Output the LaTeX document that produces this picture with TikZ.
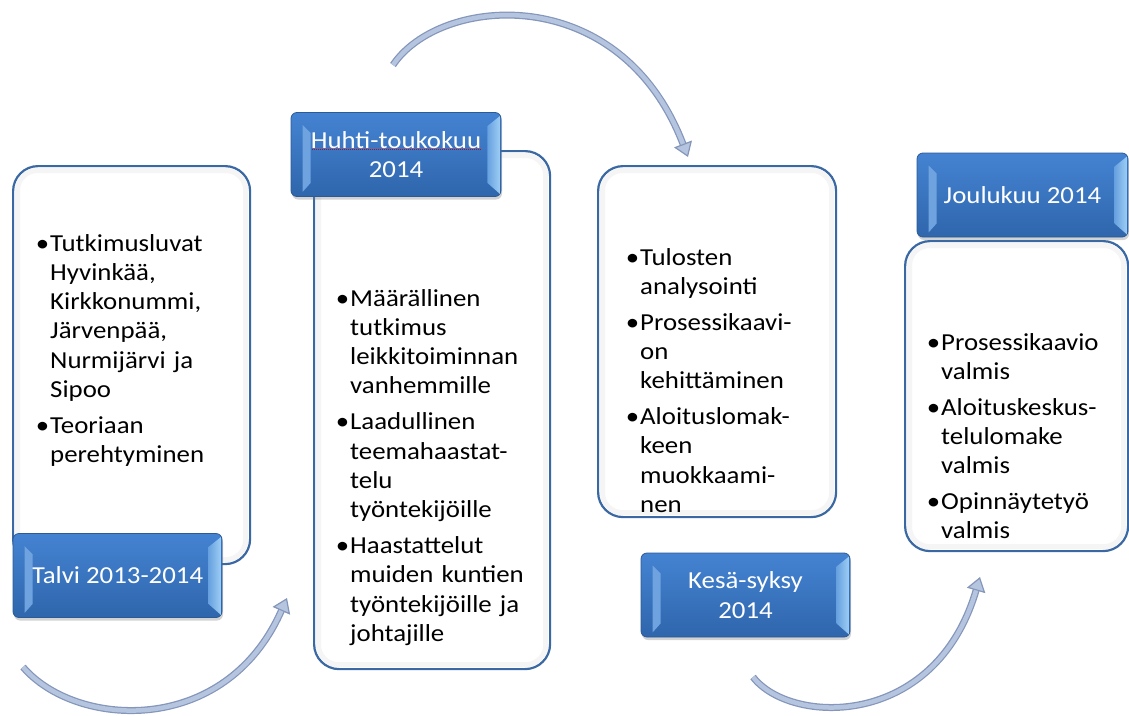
\documentclass[tikz,border=0pt]{standalone}
\usepackage{fontspec}
\setmainfont{Carlito}[FakeStretch=1.1]
\usetikzlibrary{arrows.meta,shadows,calc}
\definecolor{boxline}{HTML}{3A68A3}
\definecolor{lbltop}{HTML}{4483D2}
\definecolor{lblbot}{HTML}{2F66AC}
\definecolor{lbledge}{HTML}{2B5A96}
\definecolor{bevl}{HTML}{6FA3E0}
\definecolor{bevr}{HTML}{9CCDF4}
\definecolor{arrdark}{HTML}{8496BA}
\definecolor{arrlight}{HTML}{B5C4DF}
\tikzset{
  card/.style={draw=boxline, line width=2.2pt, fill=white, rounded corners=25pt,
    inner sep=0pt, anchor=north west},
  cardshade/.style={draw=black!4, line width=5pt, rounded corners=20pt},
  lbl/.style={draw=lbledge, line width=0.8pt, top color=lbltop, bottom color=lblbot,
    rounded corners=6pt, minimum height=84pt, inner sep=0pt, text=white,
    align=center, font=\fontsize{24.4}{29.3}\selectfont,
    drop shadow={opacity=0.35, shadow xshift=1pt, shadow yshift=-3pt}},
  bullets/.style={anchor=base west, inner sep=0pt, align=left,
    font=\fontsize{24.4}{29.3}\selectfont},
  flow/.style={arrdark, line width=7pt,
    -{Triangle[length=14pt,width=19pt,fill=arrlight,line width=1.2pt]}},
  flowin/.style={arrlight, line width=4.5pt, shorten >=14pt},
  bevelleft/.style={fill=bevl, draw=none},
  bevelright/.style={left color=lbltop!60!bevr, right color=bevr, draw=none},
  squiggle/.style={red!85!black, line width=0.6pt, dash pattern=on 1pt off 1pt}
}
\newcommand\itm{\leavevmode\llap{\textbullet\kern1pt}}
\begin{document}
\begin{tikzpicture}[x=1pt,y=-1pt]
\useasboundingbox (0,0) rectangle (1129,715);

% white cards
\node[card, minimum width=237pt, minimum height=398pt] (b1) at (12,165) {};
\node[card, minimum width=236pt, minimum height=518pt] (b2) at (313,150) {};
\node[card, minimum width=238pt, minimum height=351pt] (b3) at (597,165) {};
\node[card, minimum width=223pt, minimum height=310pt] (b4) at (904,240) {};
\foreach \b in {b1,b2,b3,b4}{
  \draw[cardshade] ($(\b.north west)+(5.5,5.5)$) rectangle ($(\b.south east)+(-5.5,-5.5)$);
}

% texts
\node[bullets, text width=205pt] (t1) at (50,251) {%
\itm Tutkimusluvat\\Hyvinkää,\\Kirkkonummi,\\Järvenpää,\\Nurmijärvi ja\\Sipoo\\[6.5pt]
\itm Teoriaan\\perehtyminen};
\node[bullets, text width=205pt] (t2) at (350,306) {%
\itm Määrällinen\\tutkimus\\leikkitoiminnan\\vanhemmille\\[6.5pt]
\itm Laadullinen\\teemahaastat-\\telu\\työntekijöille\\[6.5pt]
\itm Haastattelut\\muiden kuntien\\työntekijöille ja\\johtajille};
\node[bullets, text width=205pt] (t3) at (640,265) {%
\itm Tulosten\\analysointi\\[6.5pt]
\itm Prosessikaavi-\\on\\kehittäminen\\[6.5pt]
\itm Aloituslomak-\\keen\\muokkaami-\\nen};
\node[bullets, text width=185pt] (t4) at (941,350) {%
\itm Prosessikaavio\\valmis\\[6.5pt]
\itm Aloituskeskus-\\telulomake\\valmis\\[6.5pt]
\itm Opinnäytetyö\\valmis};

% blue labels
\node[lbl, minimum width=209pt] (l1) at (117.5,575.5) {Talvi 2013-2014};
\node[lbl, minimum width=210pt] (l2) at (396,154.5) {Huhti-toukokuu\\2014};
\node[lbl, minimum width=209pt] (l3) at (745.5,595) {Kesä-syksy\\2014};
\node[lbl, minimum width=211pt] (l4) at (1022.5,195) {Joulukuu 2014};

\foreach \n in {l1,l2,l3,l4}{
  \fill[bevelleft] ($(\n.north west)+(12,13)$) -- ($(\n.north west)+(20,21)$)
     -- ($(\n.south west)+(20,-14)$) -- ($(\n.south west)+(12,-5)$) -- cycle;
  \shade[bevelright] ($(\n.north east)+(-14,14)$) -- ($(\n.north east)+(-1.5,4)$)
     -- ($(\n.south east)+(-1.5,-3)$) -- ($(\n.south east)+(-14,-14)$) -- cycle;
}
\draw[squiggle] ($(l2.center)+(-84,-5.5)$) -- ($(l2.center)+(86,-5.5)$);

% curved arrows
\coordinate (a1s) at (23,667);
\coordinate (a1e) at (287,598);
\coordinate (a2s) at (393,65);
\coordinate (a2e) at (688,157);
\coordinate (a3s) at (753,677);
\coordinate (a3e) at (980,577);
\draw[flow] (a1s) .. controls (75,728) and (225,738) .. (a1e);
\draw[flowin] (a1s) .. controls (75,728) and (225,738) .. (a1e);
\draw[flow] (a2s) .. controls (440,-5) and (620,-20) .. (a2e);
\draw[flowin] (a2s) .. controls (440,-5) and (620,-20) .. (a2e);
\draw[flow] (a3s) .. controls (790,725) and (935,730) .. (a3e);
\draw[flowin] (a3s) .. controls (790,725) and (935,730) .. (a3e);
\end{tikzpicture}
\end{document}
